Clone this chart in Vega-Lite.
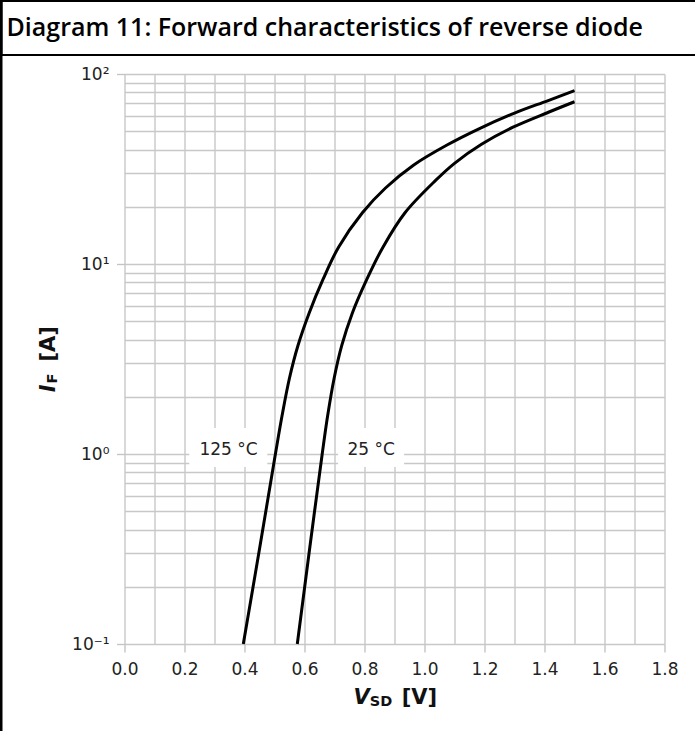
{
  "$schema": "https://vega.github.io/schema/vega-lite/v6.json",
  "padding": 0,
  "autosize": {"type": "pad"},
  "background": "white",
  "config": {"view": {"stroke": null}, "concat": {"spacing": 0}, "font": "DejaVu Sans"},
  "datasets": {
    "titleRow": [{"title": "Diagram 11: Forward characteristics of reverse diode", "pos": 0}],
    "c125": [
      {"v": 0.396, "i": 0.1}, {"v": 0.45, "i": 0.316}, {"v": 0.503, "i": 1.0}, {"v": 0.525, "i": 1.585},
      {"v": 0.55, "i": 2.512}, {"v": 0.578, "i": 3.715}, {"v": 0.615, "i": 5.495}, {"v": 0.662, "i": 8.318},
      {"v": 0.714, "i": 12.3}, {"v": 0.793, "i": 18.62}, {"v": 0.87, "i": 25.12}, {"v": 0.963, "i": 33.11},
      {"v": 1.075, "i": 42.27}, {"v": 1.185, "i": 51.76}, {"v": 1.298, "i": 62.09}, {"v": 1.41, "i": 72.28},
      {"v": 1.5, "i": 81.66}
    ],
    "c25": [
      {"v": 0.576, "i": 0.1}, {"v": 0.617, "i": 0.316}, {"v": 0.659, "i": 1.0}, {"v": 0.677, "i": 1.585},
      {"v": 0.699, "i": 2.512}, {"v": 0.724, "i": 3.715}, {"v": 0.759, "i": 5.495}, {"v": 0.808, "i": 8.318},
      {"v": 0.862, "i": 12.3}, {"v": 0.935, "i": 18.62}, {"v": 1.037, "i": 27.54}, {"v": 1.1, "i": 33.88},
      {"v": 1.19, "i": 42.66}, {"v": 1.295, "i": 52.48}, {"v": 1.415, "i": 63.1}, {"v": 1.5, "i": 71.45}
    ],
    "labels": [
      {"label": "125 °C", "v": 0.347, "i": 1.05, "v0": 0.216, "v1": 0.476, "i0": 0.854, "i1": 1.37},
      {"label": "25 °C", "v": 0.822, "i": 1.05, "v0": 0.712, "v1": 0.932, "i0": 0.854, "i1": 1.37}
    ]
  },
  "align": "none",
  "spacing": -2.5,
  "hconcat": [
    {
      "width": 0.5,
      "height": 731,
      "view": {"stroke": "black", "strokeWidth": 2},
      "data": {"values": []},
      "mark": "text",
      "encoding": {}
    },
    {
      "spacing": 0,
      "align": "none",
      "vconcat": [
        {
          "width": 700,
          "height": 54,
          "view": {"stroke": "black", "strokeWidth": 2},
          "data": {"name": "titleRow"},
          "mark": {"type": "text", "align": "left", "baseline": "middle", "dx": 5, "font": "Open Sans", "fontSize": 25, "fontWeight": 600, "color": "#000000"},
          "encoding": {
            "x": {"field": "pos", "type": "quantitative", "scale": {"domain": [0, 1]}, "axis": null},
            "text": {"field": "title"}
          }
        },
        {
          "spacing": 0,
          "align": "none",
          "hconcat": [
            {
              "width": 0.5,
              "height": 0.5,
              "data": {"values": []},
              "mark": "text",
              "encoding": {}
            },
            {
              "width": 540,
              "height": 570,
              "resolve": {"axis": {"x": "independent", "y": "independent"}},
              "layer": [
                {
                  "data": {"name": "labels"},
                  "mark": {"type": "rect", "color": "white"},
                  "encoding": {
                    "x": {"field": "v0", "type": "quantitative", "scale": {"domain": [0, 1.8], "nice": false, "zero": false},
                      "axis": {"orient": "bottom", "values": [0,0.1,0.2,0.3,0.4,0.5,0.6,0.7,0.8,0.9,1.0,1.1,1.2,1.3,1.4,1.5,1.6,1.7,1.8],
                        "grid": true, "gridColor": "#c8c8c8", "gridWidth": 1.4, "labels": false, "ticks": false, "domain": false,
                        "title": "V", "titleFont": "DejaVu Sans", "titleFontSize": 21, "titleFontWeight": "bold", "titleFontStyle": "italic", "titleColor": "#111111",
                        "titleX": 228.4, "titleY": 59.3, "titleAlign": "left", "titleBaseline": "alphabetic", "titleAngle": 0}},
                    "x2": {"field": "v1"},
                    "y": {"field": "i0", "type": "quantitative", "scale": {"type": "log", "domain": [0.1, 100], "nice": false},
                      "axis": {"orient": "left", "values": [0.1,0.2,0.3,0.4,0.5,0.6,0.7,0.8,0.9,1,2,3,4,5,6,7,8,9,10,20,30,40,50,60,70,80,90,100],
                        "grid": true, "gridColor": "#c8c8c8", "gridWidth": 1.4, "labels": false, "ticks": false, "domain": false,
                        "title": "I", "titleFont": "DejaVu Sans", "titleFontSize": 21, "titleFontWeight": "bold", "titleFontStyle": "italic", "titleColor": "#111111",
                        "titleX": -70, "titleY": 317.7, "titleAlign": "left", "titleBaseline": "alphabetic", "titleAngle": 270}},
                    "y2": {"field": "i1"}
                  }
                },
                {
                  "data": {"name": "labels"},
                  "mark": {"type": "text", "font": "DejaVu Sans", "fontSize": 17, "color": "#222222", "baseline": "middle", "align": "center"},
                  "encoding": {
                    "x": {"field": "v", "type": "quantitative", "scale": {"domain": [0, 1.8], "nice": false, "zero": false},
                      "axis": {"orient": "bottom", "values": [0,0.2,0.4,0.6,0.8,1.0,1.2,1.4,1.6,1.8], "format": ".1f",
                        "grid": false, "domain": false, "ticks": true, "tickColor": "#c4c4c4", "tickWidth": 1.4, "tickSize": 8,
                        "labels": true, "labelFont": "DejaVu Sans", "labelFontSize": 17, "labelColor": "#222222", "labelPadding": 9,
                        "labelFlush": false, "labelOverlap": false,
                        "title": "SD", "titleFont": "DejaVu Sans", "titleFontSize": 14.5, "titleFontWeight": "bold", "titleColor": "#111111",
                        "titleX": 244.7, "titleY": 61, "titleAlign": "left", "titleBaseline": "alphabetic", "titleAngle": 0}},
                    "y": {"field": "i", "type": "quantitative", "scale": {"type": "log", "domain": [0.1, 100], "nice": false},
                      "axis": {"orient": "left", "values": [0.1, 1, 10, 100],
                        "labelExpr": "datum.value >= 99 ? '10²' : datum.value >= 9 ? '10¹' : datum.value >= 0.9 ? '10⁰' : '10⁻¹'",
                        "grid": false, "domain": false, "ticks": true, "tickColor": "#c4c4c4", "tickWidth": 1.4, "tickSize": 8,
                        "labels": true, "labelFont": "DejaVu Sans", "labelFontSize": 17, "labelColor": "#222222", "labelPadding": 7.5,
                        "labelFlush": false, "labelOverlap": false, "minExtent": 121.5, "maxExtent": 121.5,
                        "title": "F", "titleFont": "DejaVu Sans", "titleFontSize": 14.5, "titleFontWeight": "bold", "titleColor": "#111111",
                        "titleX": -68, "titleY": 309, "titleAlign": "left", "titleBaseline": "alphabetic", "titleAngle": 270}},
                    "text": {"field": "label"}
                  }
                },
                {
                  "data": {"name": "c125"},
                  "mark": {"type": "line", "color": "black", "strokeWidth": 3, "interpolate": "catmull-rom"},
                  "encoding": {
                    "x": {"field": "v", "type": "quantitative", "scale": {"domain": [0, 1.8], "nice": false, "zero": false},
                      "axis": {"orient": "bottom", "labels": false, "ticks": false, "domain": false, "grid": false,
                        "title": "[V]", "titleFont": "DejaVu Sans", "titleFontSize": 21, "titleFontWeight": "bold", "titleColor": "#111111",
                        "titleX": 276.7, "titleY": 59.3, "titleAlign": "left", "titleBaseline": "alphabetic", "titleAngle": 0}},
                    "y": {"field": "i", "type": "quantitative", "scale": {"type": "log", "domain": [0.1, 100], "nice": false},
                      "axis": {"orient": "left", "labels": false, "ticks": false, "domain": false, "grid": false,
                        "title": "[A]", "titleFont": "DejaVu Sans", "titleFontSize": 21, "titleFontWeight": "bold", "titleColor": "#111111",
                        "titleX": -70, "titleY": 287, "titleAlign": "left", "titleBaseline": "alphabetic", "titleAngle": 270}}
                  }
                },
                {
                  "data": {"name": "c25"},
                  "mark": {"type": "line", "color": "black", "strokeWidth": 3, "interpolate": "catmull-rom"},
                  "encoding": {
                    "x": {"field": "v", "type": "quantitative", "scale": {"domain": [0, 1.8], "nice": false, "zero": false},
                      "axis": {"orient": "top", "labels": false, "ticks": false, "domain": false, "grid": false, "title": null,
                        "minExtent": 18, "maxExtent": 18}},
                    "y": {"field": "i", "type": "quantitative", "scale": {"type": "log", "domain": [0.1, 100], "nice": false}, "axis": null}
                  }
                }
              ]
            }
          ]
        }
      ]
    }
  ]
}
